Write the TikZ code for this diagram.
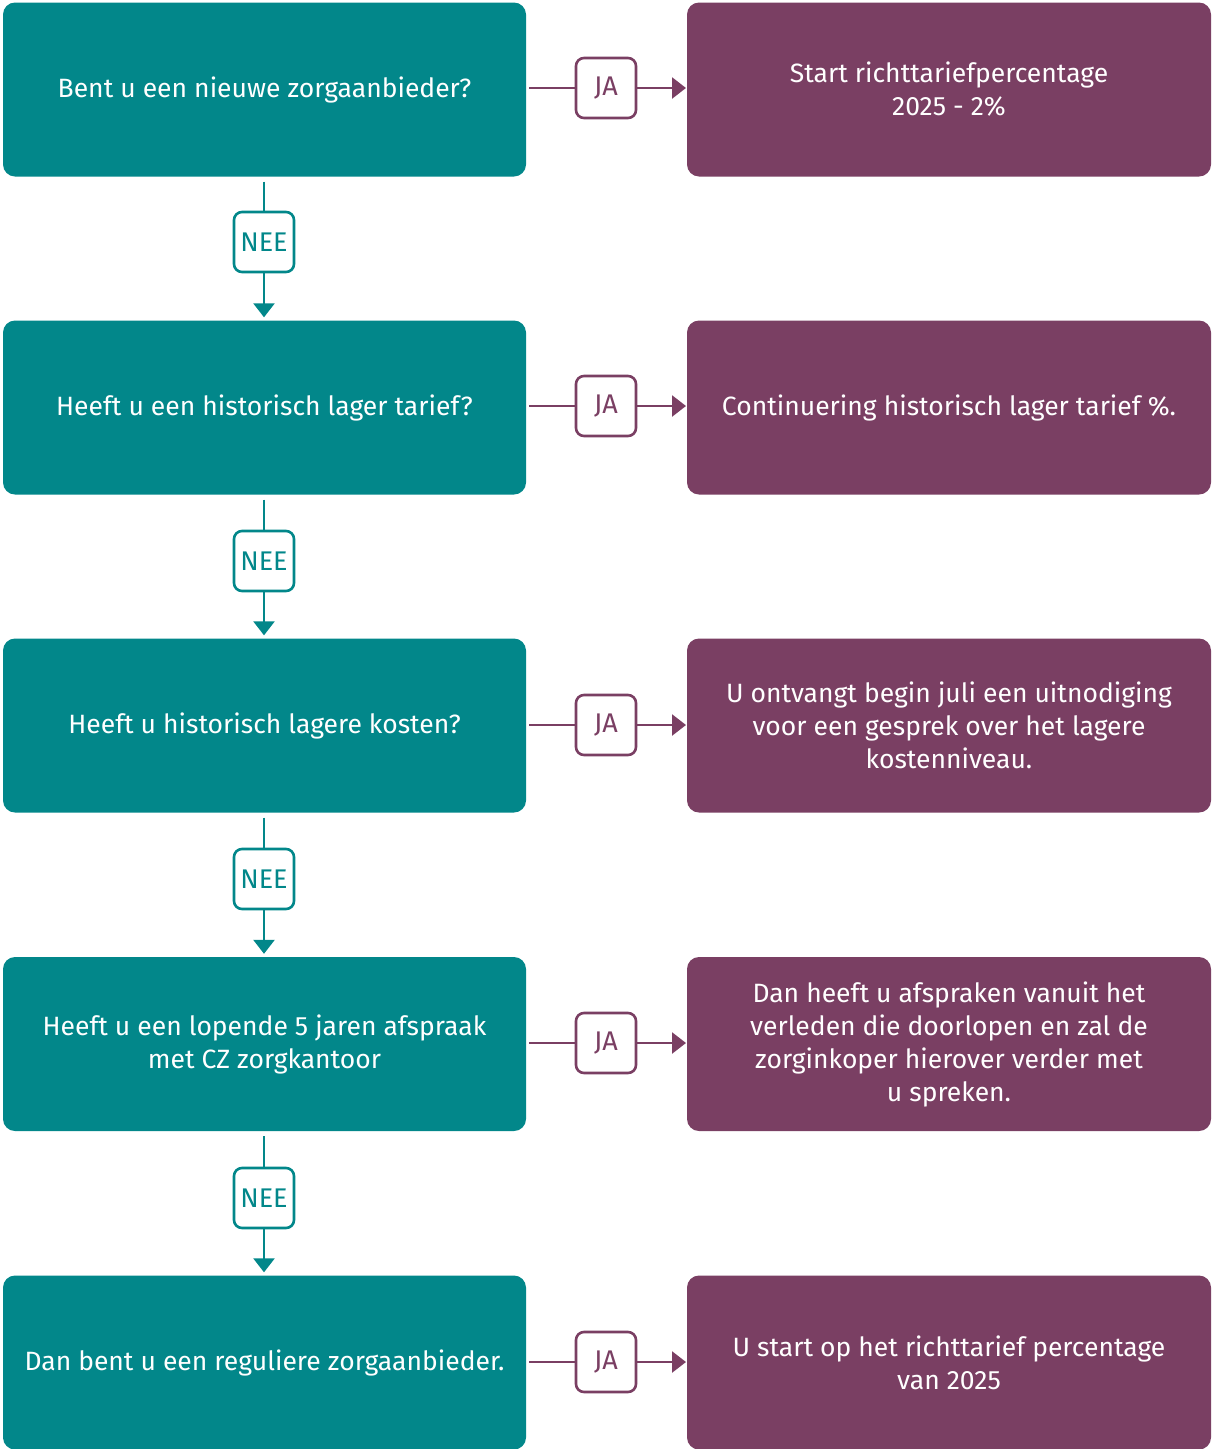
\documentclass[tikz,border=0pt]{standalone}
\usepackage{fontspec}
\setmainfont{Fira Sans}
\usetikzlibrary{arrows.meta,positioning}
\definecolor{czteal}{HTML}{02878A}
\definecolor{czpurple}{HTML}{7A3F63}
\tikzset{
  question/.style={fill=czteal, rounded corners=12pt, minimum width=523pt, minimum height=174pt,
    text=white, align=center, font=\fontsize{26.5}{33}\selectfont, inner sep=0pt},
  outcome/.style={fill=czpurple, rounded corners=12pt, minimum width=524pt, minimum height=174pt,
    text=white, align=center, font=\fontsize{26.5}{33}\selectfont, inner sep=0pt},
  yeslabel/.style={draw=czpurple, line width=2.6pt, fill=white, rounded corners=8pt,
    minimum size=60pt, text=czpurple, font=\fontsize{27}{30}\selectfont, inner sep=0pt},
  nolabel/.style={draw=czteal, line width=2.6pt, fill=white, rounded corners=8pt,
    minimum size=60pt, text=czteal, font=\fontsize{27}{30}\selectfont, inner sep=0pt},
  yesline/.style={draw=czpurple, line width=2.6pt},
  noline/.style={draw=czteal, line width=2.6pt},
  tip/.style={-{Triangle[length=14pt,width=21pt]}},
}
\begin{document}
\begin{tikzpicture}[x=1pt,y=-1pt]
\useasboundingbox (0,0) rectangle (1212,1449);

% questions (left column)
\node[question] (q1) at (264.5,89.5)  {Bent u een nieuwe zorgaanbieder?};
\node[question] (q2) at (264.5,407.5) {Heeft u een historisch lager tarief?};
\node[question] (q3) at (264.5,725.5) {Heeft u historisch lagere kosten?};
\node[question] (q4) at (264.5,1044)  {Heeft u een lopende 5 jaren afspraak\\met CZ zorgkantoor};
\node[question] (q5) at (264.5,1362.5){Dan bent u een reguliere zorgaanbieder.};

% outcomes (right column)
\node[outcome] (r1) at (949,89.5)  {Start richttariefpercentage\\2025 - 2\%};
\node[outcome] (r2) at (949,407.5) {Continuering historisch lager tarief \%.};
\node[outcome] (r3) at (949,725.5) {U ontvangt begin juli een uitnodiging\\voor een gesprek over het lagere\\kostenniveau.};
\node[outcome] (r4) at (949,1044)  {Dan heeft u afspraken vanuit het\\verleden die doorlopen en zal de\\zorginkoper hierover verder met\\u spreken.};
\node[outcome] (r5) at (949,1362.5){U start op het richttarief percentage\\van 2025};

% JA branches
\foreach \i/\y in {1/88,2/406,3/725,4/1043,5/1362}{
  \node[yeslabel] (ja\i) at (606,\y) {JA};
  \coordinate (jaS\i) at (529,\y);
  \coordinate (jaE\i) at (686,\y);
  \draw[yesline] (jaS\i) -- (ja\i.west);
  \draw[yesline,tip] (ja\i.east) -- (jaE\i);
}

% NEE branches
\foreach \i/\y/\n in {1/242/2,2/561/3,3/879/4,4/1198/5}{
  \node[nolabel] (nee\i) at (264,\y) {NEE};
  \draw[noline] ([yshift=-5pt]q\i.south -| nee\i.north) -- (nee\i.north);
  \draw[noline,tip] (nee\i.south) -- ([yshift=3pt]q\n.north -| nee\i.south);
}
\end{tikzpicture}
\end{document}
